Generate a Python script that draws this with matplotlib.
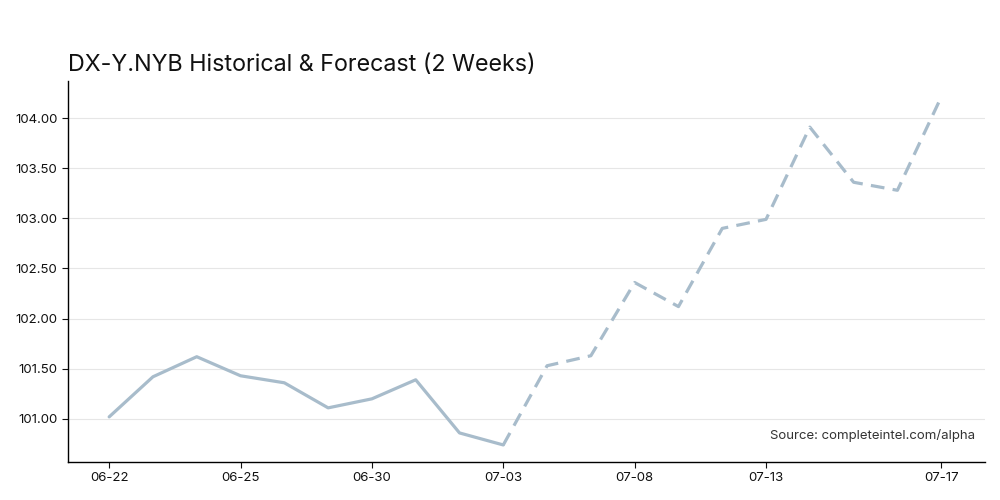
import matplotlib
matplotlib.use("Agg")
import matplotlib.pyplot as plt

dates = ["06-22", "06-23", "06-24", "06-25", "06-26", "06-29", "06-30", "07-01", "07-02", "07-03",
         "07-06", "07-07", "07-08", "07-09", "07-10", "07-13", "07-14", "07-15", "07-16", "07-17"]
historical = [101.02, 101.42, 101.62, 101.43, 101.36, 101.11, 101.20, 101.39, 100.86, 100.74]
forecast = [100.74, 101.53, 101.63, 102.36, 102.12, 102.90, 102.99, 103.91, 103.36, 103.28, 104.21]
tick_labels = ["06-22", "06-25", "06-30", "07-03", "07-08", "07-13", "07-17"]
y_ticks = [101.0, 101.5, 102.0, 102.5, 103.0, 103.5, 104.0]

plt.rcParams['font.family'] = ['Inter', 'DejaVu Sans']
fig = plt.figure(figsize=(10, 5), dpi=100)
ax = fig.add_axes([0.068, 0.076, 0.917, 0.762])

color = "#a8bccb"
hx = list(range(len(historical)))
fx = list(range(len(historical) - 1, len(historical) - 1 + len(forecast)))
ax.plot(hx, historical, color=color, lw=2.3, solid_capstyle='round', zorder=3)
ax.plot(fx, forecast, color=color, lw=2.3, ls=(0, (4.3, 2.6)), zorder=3)

ax.set_xlim(-0.94, 20.0)
ax.set_ylim(100.57, 104.37)
ax.set_xticks([dates.index(t) for t in tick_labels])
ax.set_xticklabels(tick_labels, fontsize=9.5)
ax.set_yticks(y_ticks)
ax.set_yticklabels([f"{v:.2f}" for v in y_ticks], fontsize=9.5)
ax.grid(axis='y', color='#e6e6e6', lw=0.8)
ax.set_axisbelow(True)
for s in ['top', 'right']:
    ax.spines[s].set_visible(False)
ax.spines['left'].set_linewidth(1.0)
ax.spines['bottom'].set_linewidth(1.0)
ax.tick_params(length=4, width=0.8, colors='#111111')

ax.text(0.0, 1.012, "DX-Y.NYB Historical & Forecast (2 Weeks)", transform=ax.transAxes,
        fontsize=16.8, ha='left', va='bottom', color='#111111')
ax.text(0.989, 0.07, "Source: completeintel.com/alpha", transform=ax.transAxes,
        fontsize=9.5, ha='right', va='center', color='#333333')

fig.savefig("out.png", dpi=100)
